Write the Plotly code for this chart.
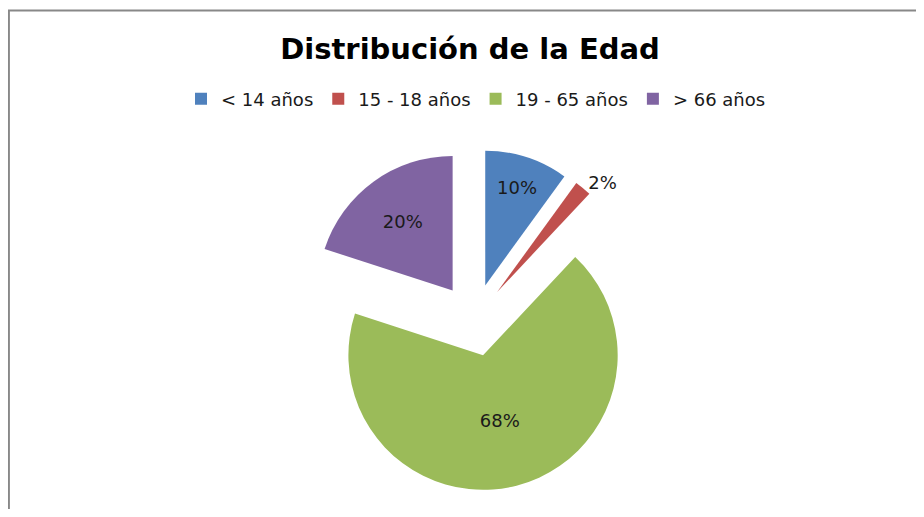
import plotly.graph_objects as go

labels = ["< 14 años", "15 - 18 años", "19 - 65 años", "> 66 años"]
values = [10, 2, 68, 20]
colors = ["#4F81BD", "#C0504D", "#9BBB59", "#8064A2"]
pulls = [0.27, 0.27, 0.27, 0.27]
text_pos = ["inside", "outside", "inside", "inside"]

W, H = 908, 501   # page body has an 8px margin; reference pixel (X, Y) -> figure (X-8, Y-8)

def px(x):
    return (x - 8) / W

def py(y):
    return 1 - (y - 8) / H

FONT = "DejaVu Sans, Verdana, sans-serif"
cx, cy, box = 474, 320, 342
fig = go.Figure(go.Pie(
    labels=labels,
    values=values,
    sort=False,
    direction="clockwise",
    rotation=0,
    pull=pulls,
    marker=dict(colors=colors, line=dict(width=0)),
    texttemplate="%{percent:.0%}",
    textposition=text_pos,
    insidetextorientation="horizontal",
    textfont=dict(family=FONT, size=18, color="#1a1a1a"),
    domain=dict(x=[px(cx - box / 2), px(cx + box / 2)], y=[py(cy + box / 2), py(cy - box / 2)]),
    hoverinfo="label+percent",
))

fig.update_layout(
    width=W, height=H,
    autosize=False,
    margin=dict(l=0, r=0, t=0, b=0, pad=0, autoexpand=False),
    paper_bgcolor="white",
    title=dict(
        text="<b>Distribución de la Edad</b>",
        x=px(470), xanchor="center", y=py(49), yanchor="middle", yref="paper", xref="paper",
        font=dict(family=FONT, size=29, color="#000000"),
    ),
    legend=dict(
        orientation="h", x=px(476), xanchor="center", y=py(99), yanchor="middle",
        font=dict(family=FONT, size=18, color="#1a1a1a"),
        itemwidth=30, traceorder="normal",
    ),
    shapes=[
        dict(type="line", xref="paper", yref="paper", x0=0, x1=1.0, y0=py(10.5), y1=py(10.5),
             line=dict(color="#888888", width=2)),
        dict(type="line", xref="paper", yref="paper", x0=0.001, x1=0.001, y0=0, y1=py(10.5),
             line=dict(color="#888888", width=2)),
    ],
)

fig.write_html("out.html")
